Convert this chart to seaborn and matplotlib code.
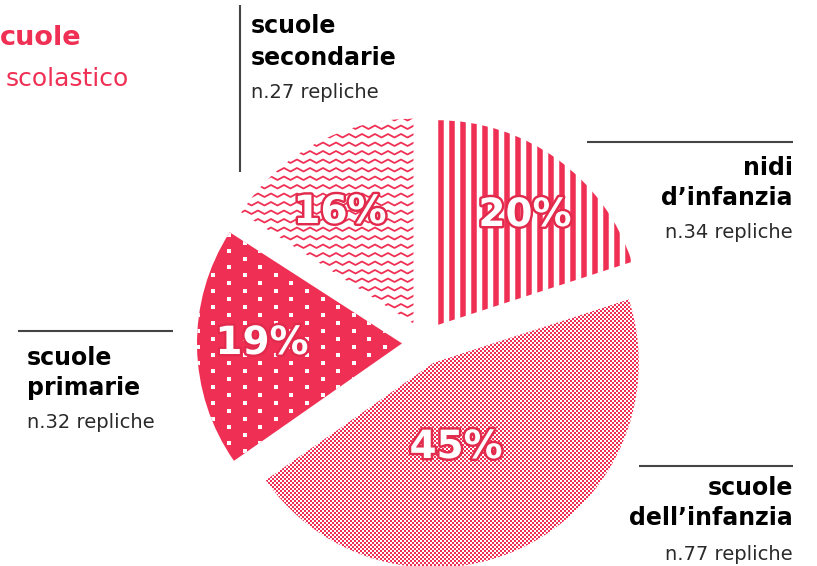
import numpy as np
import matplotlib
matplotlib.use('Agg')
import matplotlib.pyplot as plt
import matplotlib.patheffects as pe
from matplotlib.colors import ListedColormap
from matplotlib.collections import LineCollection
import seaborn as sns

# data
names = [['nidi', 'd\u2019infanzia'],
         ['scuole', 'dell\u2019infanzia'],
         ['scuole', 'primarie'],
         ['scuole', 'secondarie']]
repliche = [34, 77, 32, 27]
count_labels = ['n.34 repliche', 'n.77 repliche', 'n.32 repliche', 'n.27 repliche']

RED = '#EF3054'
W, H = 817, 566

sns.set_style('white')
plt.rcParams['font.family'] = ['DejaVu Sans']

fig = plt.figure(figsize=(W / 100, H / 100), dpi=100)
ax = fig.add_axes([0, 0, 1, 1])

wedges, _, pcts = ax.pie(repliche, radius=205, center=(424, H - 343),
                         startangle=90, counterclock=False, explode=[22] * 4,
                         autopct='%.0f%%', pctdistance=0.68,
                         colors=['white', 'none', RED, 'white'],
                         wedgeprops=dict(linewidth=0, zorder=1))

# nidi: vertical stripes
xs = np.arange(441.2, 660, 11)
lc = ax.vlines(xs, 0, H, colors=RED, linewidth=3.96, zorder=2)
lc.set_clip_path(wedges[0])

# scuole dell'infanzia: fine checkerboard
yy, xx = np.mgrid[0:H, 0:W]
board = (xx // 2 + yy // 2) % 2
im = ax.imshow(board, cmap=ListedColormap(['white', RED]), extent=(0, W, 0, H),
               origin='lower', interpolation='nearest', zorder=2)
im.set_clip_path(wedges[1])

# scuole primarie: white dots on red
gx, gy = np.meshgrid(np.arange(-20, 20), np.arange(-10, 40))
keep = (gx + gy) % 2 == 0
dx = 229 + 15.6 * gx[keep]
dy = H - (267 + 8 * gy[keep])
sc = ax.scatter(dx, dy, marker='s', s=4.7, c='white', linewidths=0, zorder=2)
sc.set_clip_path(wedges[2])

# scuole secondarie: zigzag rows
segs = []
zx = np.arange(180, 440, 6.5)
for y0 in np.arange(100, 340, 8.5):
    zy = y0 + 3.5 * (np.arange(len(zx)) % 2)
    segs.append(np.column_stack([zx, H - zy]))
zz = LineCollection(segs, colors=RED, linewidths=1.3, zorder=2)
ax.add_collection(zz)
zz.set_clip_path(wedges[3])

# percentage labels
pct_pos = [(525, 215), (456, 447), (262, 343), (340, 212)]
for t, (px, py) in zip(pcts, pct_pos):
    t.set_position((px, H - py))
    t.set_color('white')
    t.set_fontsize(28)
    t.set_fontweight('heavy')
    t.set_ha('center')
    t.set_va('center')
    t.set_zorder(5)
    t.set_path_effects([pe.withStroke(linewidth=3.5, foreground='#E22A4C')])

# category labels: (x, ha, baselines for two name lines and the count line)
label_layout = [(793, 'right', [175, 205, 238]),
                (793, 'right', [495, 525, 560]),
                (27, 'left', [365, 395, 428]),
                (251, 'left', [33, 65, 98])]
for name, cnt, (lx, ha, bl) in zip(names, count_labels, label_layout):
    for line, yb in zip(name, bl[:2]):
        ax.text(lx, H - yb, line, ha=ha, va='baseline', fontsize=17,
                fontweight='bold', color='black')
    ax.text(lx, H - bl[2], cnt, ha=ha, va='baseline', fontsize=14, color='#2a2a2a')

# leader lines
line_kw = dict(color='#444444', lw=1.5, solid_capstyle='butt')
ax.plot([240, 240], [H - 5, H - 172], **line_kw)
ax.plot([587, 793], [H - 142, H - 142], **line_kw)
ax.plot([18, 173], [H - 331, H - 331], **line_kw)
ax.plot([639, 793], [H - 466, H - 466], **line_kw)

# title fragments
ax.text(0, H - 45, 'cuole', color=RED, fontsize=19.5, fontweight='bold', va='baseline')
ax.text(6, H - 86, 'scolastico', color=RED, fontsize=18, va='baseline')

ax.set_xlim(0, W)
ax.set_ylim(0, H)
ax.set_aspect('auto')
ax.axis('off')

fig.savefig('out.png', dpi=100)
